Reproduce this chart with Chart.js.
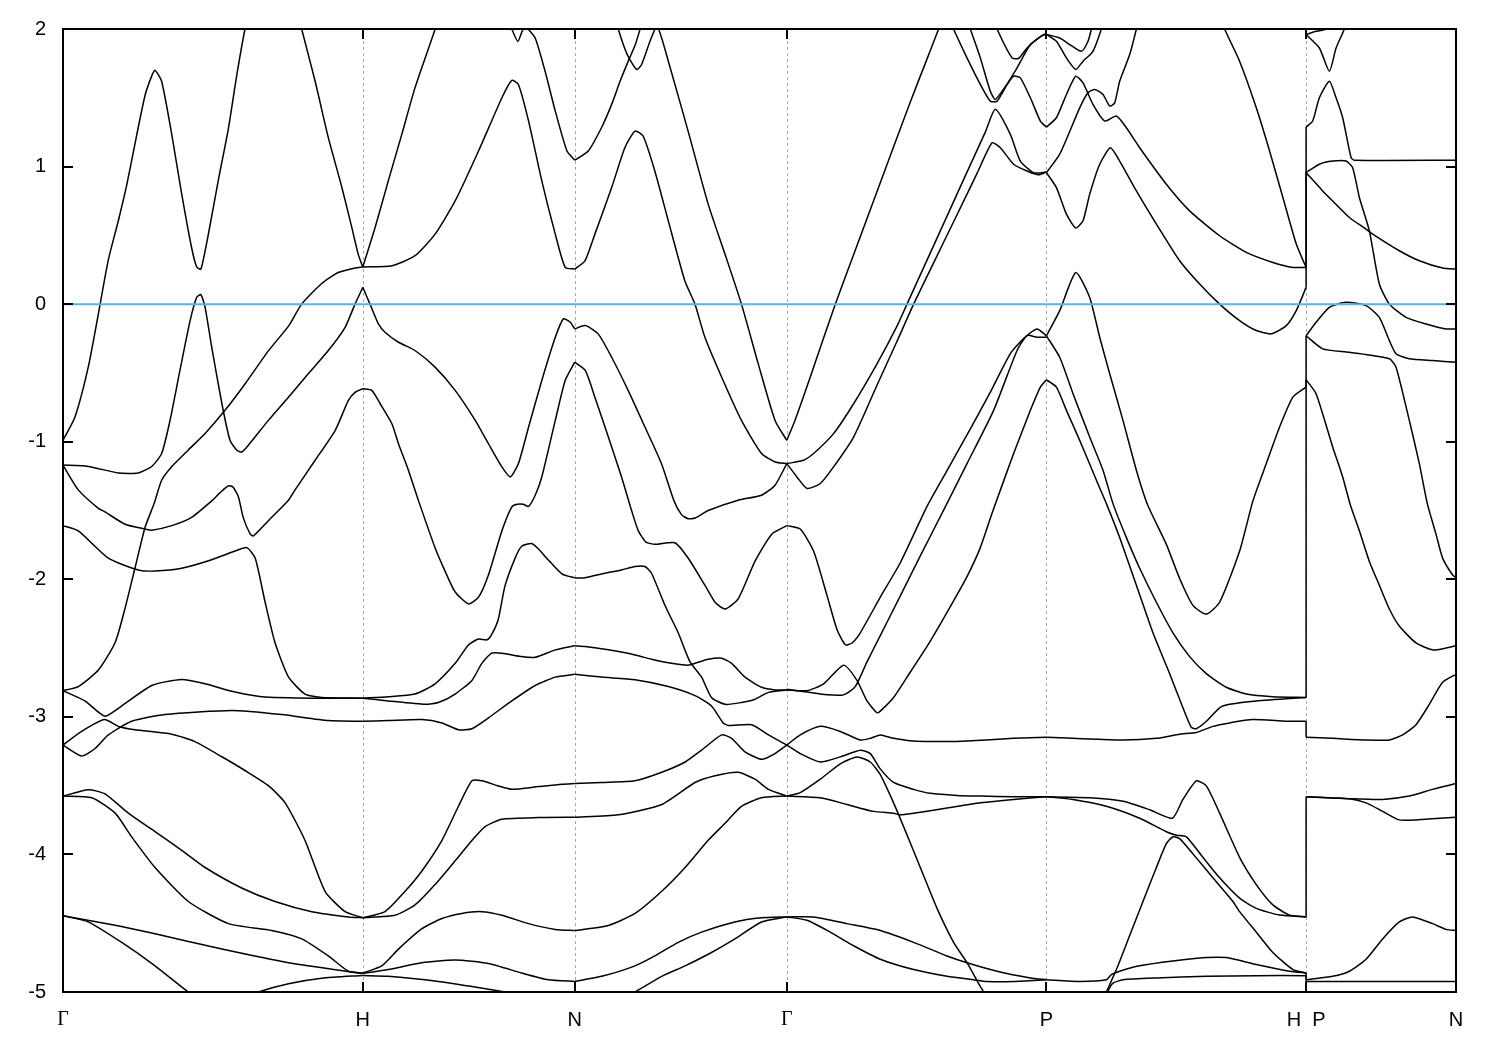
<!DOCTYPE html>
<html>
<head>
<meta charset="utf-8">
<script src="https://cdn.jsdelivr.net/npm/chart.js@4.4.1/dist/chart.umd.min.js"></script>
<style>
  html, body { margin: 0; padding: 0; background: #fff; }
  canvas { display: block; }
</style>
</head>
<body>
<canvas id="bands" width="1500" height="1050"></canvas>
<script>
// k-path (units of 2pi/a), high symmetry points
const kTicks = [0, 1, 1.7071, 2.4142, 3.2802, 4.1463, 4.6463];
const kLabels = ['Γ', 'H', 'N', 'Γ', 'P', 'H  P', 'N'];
const energyMin = -5;
const energyMax = 2;
const fermiLevel = 0;

// bands per path segment, each curve is a list of [k, E(eV)]
const bandsGammaH = [
  [[0,-0.99],[0.040,-0.82],[0.084,-0.46],[0.118,-0.07],[0.151,0.32],[0.185,0.61],[0.213,0.87],[0.246,1.23],[0.274,1.52],[0.298,1.67],[0.307,1.70],[0.329,1.62],[0.363,1.23],[0.396,0.80],[0.429,0.41],[0.446,0.27],[0.460,0.255],[0.485,0.51],[0.518,0.90],[0.552,1.28],[0.580,1.67],[0.607,2.0],[0.62,2.1]],
  [[0,-1.17],[0.084,-1.18],[0.185,-1.227],[0.251,-1.227],[0.296,-1.18],[0.329,-1.086],[0.357,-0.845],[0.390,-0.482],[0.424,-0.12],[0.446,0.05],[0.460,0.069],[0.474,-0.023],[0.496,-0.313],[0.530,-0.724],[0.557,-0.99],[0.580,-1.062],[0.596,-1.075],[0.618,-1.026],[0.685,-0.845],[0.752,-0.676],[0.818,-0.506],[0.885,-0.337],[0.941,-0.168],[0.974,0.0],[1.0,0.122]],
  [[0,-2.81],[0.051,-2.78],[0.118,-2.66],[0.174,-2.46],[0.207,-2.21],[0.240,-1.92],[0.274,-1.62],[0.304,-1.45],[0.329,-1.28],[0.363,-1.18],[0.418,-1.06],[0.474,-0.94],[0.541,-0.77],[0.607,-0.58],[0.685,-0.34],[0.752,-0.16],[0.796,0.0],[0.863,0.15],[0.918,0.23],[0.974,0.263],[1.0,0.27]],
  [[0.776,2.17],[0.796,2.0],[0.841,1.62],[0.885,1.21],[0.930,0.85],[0.963,0.56],[0.985,0.36],[1.0,0.27]],
  [[0,-1.17],[0.051,-1.35],[0.118,-1.485],[0.140,-1.51],[0.207,-1.60],[0.274,-1.635],[0.296,-1.643],[0.363,-1.61],[0.429,-1.55],[0.496,-1.43],[0.524,-1.37],[0.552,-1.32],[0.567,-1.33],[0.585,-1.40],[0.601,-1.55],[0.624,-1.67],[0.635,-1.685],[0.685,-1.574],[0.752,-1.425],[0.774,-1.35],[0.841,-1.135],[0.908,-0.917],[0.952,-0.70],[0.975,-0.64],[1.0,-0.615]],
  [[0,-1.61],[0.051,-1.648],[0.151,-1.846],[0.251,-1.932],[0.307,-1.94],[0.396,-1.92],[0.496,-1.858],[0.574,-1.795],[0.613,-1.77],[0.641,-1.846],[0.674,-2.165],[0.707,-2.46],[0.752,-2.71],[0.807,-2.834],[0.863,-2.859],[1.0,-2.864]],
  [[0,-2.81],[0.073,-2.884],[0.140,-2.995],[0.196,-2.92],[0.296,-2.772],[0.396,-2.728],[0.474,-2.76],[0.574,-2.82],[0.663,-2.853],[0.841,-2.864],[1.0,-2.864]],
  [[0,-3.205],[0.062,-3.106],[0.138,-3.02],[0.185,-3.07],[0.240,-3.094],[0.363,-3.126],[0.440,-3.18],[0.530,-3.29],[0.607,-3.39],[0.685,-3.50],[0.741,-3.625],[0.807,-3.897],[0.874,-4.268],[0.941,-4.416],[1.0,-4.46]],
  [[0,-3.205],[0.062,-3.284],[0.107,-3.23],[0.151,-3.131],[0.229,-3.032],[0.340,-2.983],[0.563,-2.953],[0.730,-2.983],[0.885,-3.027],[1.0,-3.032]],
  [[0,-3.576],[0.084,-3.53],[0.140,-3.56],[0.218,-3.70],[0.307,-3.835],[0.396,-3.97],[0.474,-4.095],[0.596,-4.244],[0.707,-4.342],[0.830,-4.416],[0.952,-4.454],[1.0,-4.46]],
  [[0,-3.576],[0.096,-3.588],[0.174,-3.70],[0.229,-3.872],[0.307,-4.095],[0.418,-4.342],[0.552,-4.503],[0.696,-4.553],[0.796,-4.614],[0.885,-4.738],[0.952,-4.849],[1.0,-4.862]],
  [[0,-4.446],[0.174,-4.515],[0.307,-4.577],[0.530,-4.688],[0.752,-4.787],[1.0,-4.866]],
  [[0,-4.446],[0.084,-4.49],[0.196,-4.64],[0.307,-4.81],[0.418,-5.0],[0.49,-5.1]],
  [[0.56,-5.08],[0.652,-5.0],[0.752,-4.94],[0.863,-4.90],[1.0,-4.88]]
];

const bandsHN = [
  [[1.0,0.27],[1.041,0.557],[1.085,0.896],[1.130,1.234],[1.174,1.572],[1.241,1.996],[1.26,2.12]],
  [[1.0,0.27],[1.097,0.279],[1.174,0.352],[1.241,0.509],[1.308,0.75],[1.386,1.113],[1.464,1.50],[1.497,1.626],[1.519,1.597],[1.553,1.33],[1.597,0.896],[1.642,0.509],[1.675,0.267],[1.707,0.255]],
  [[1.48,2.1],[1.497,2.0],[1.517,1.91],[1.535,2.0],[1.55,2.0],[1.575,1.935],[1.608,1.693],[1.642,1.403],[1.681,1.113],[1.707,1.046]],
  [[1.0,0.122],[1.024,0.0],[1.052,-0.144],[1.074,-0.204],[1.119,-0.277],[1.174,-0.337],[1.241,-0.458],[1.308,-0.627],[1.375,-0.845],[1.419,-1.014],[1.464,-1.183],[1.492,-1.256],[1.519,-1.159],[1.553,-0.893],[1.597,-0.555],[1.642,-0.241],[1.669,-0.107],[1.692,-0.132],[1.707,-0.18]],
  [[1.0,-0.615],[1.030,-0.627],[1.058,-0.724],[1.097,-0.869],[1.119,-1.014],[1.152,-1.207],[1.186,-1.43],[1.241,-1.771],[1.275,-1.944],[1.308,-2.092],[1.353,-2.179],[1.386,-2.13],[1.419,-1.969],[1.464,-1.648],[1.497,-1.474],[1.515,-1.455],[1.535,-1.455],[1.553,-1.47],[1.575,-1.389],[1.597,-1.256],[1.642,-0.845],[1.675,-0.555],[1.707,-0.422]],
  [[1.0,-2.864],[1.085,-2.854],[1.174,-2.834],[1.241,-2.76],[1.308,-2.611],[1.353,-2.476],[1.386,-2.434],[1.414,-2.44],[1.430,-2.40],[1.452,-2.29],[1.474,-2.05],[1.508,-1.846],[1.530,-1.76],[1.563,-1.74],[1.586,-1.78],[1.619,-1.86],[1.664,-1.96],[1.707,-1.99]],
  [[1.0,-2.864],[1.085,-2.884],[1.208,-2.909],[1.252,-2.896],[1.308,-2.834],[1.364,-2.735],[1.397,-2.611],[1.430,-2.537],[1.464,-2.537],[1.530,-2.562],[1.575,-2.567],[1.642,-2.513],[1.707,-2.483]],
  [[1.0,-3.032],[1.085,-3.027],[1.197,-3.02],[1.264,-3.044],[1.319,-3.094],[1.364,-3.086],[1.419,-3.007],[1.497,-2.884],[1.575,-2.772],[1.642,-2.711],[1.707,-2.691]],
  [[1.0,-4.46],[1.074,-4.416],[1.141,-4.268],[1.197,-4.12],[1.264,-3.897],[1.319,-3.65],[1.364,-3.465],[1.397,-3.465],[1.452,-3.502],[1.497,-3.527],[1.586,-3.507],[1.664,-3.49],[1.707,-3.485]],
  [[1.0,-4.46],[1.108,-4.442],[1.174,-4.367],[1.241,-4.219],[1.308,-4.046],[1.364,-3.898],[1.408,-3.798],[1.464,-3.744],[1.586,-3.732],[1.707,-3.73]],
  [[1.0,-4.862],[1.063,-4.81],[1.119,-4.688],[1.197,-4.54],[1.264,-4.466],[1.330,-4.429],[1.397,-4.416],[1.464,-4.442],[1.553,-4.503],[1.642,-4.545],[1.707,-4.553]],
  [[1.0,-4.866],[1.085,-4.837],[1.197,-4.787],[1.308,-4.768],[1.419,-4.793],[1.530,-4.862],[1.619,-4.911],[1.707,-4.923]],
  [[1.0,-4.88],[1.085,-4.886],[1.252,-4.923],[1.364,-4.96],[1.475,-5.0],[1.592,-5.05]]
];

const bandsNGamma = [
  [[1.707,1.046],[1.752,1.113],[1.796,1.282],[1.830,1.452],[1.858,1.62],[1.883,1.754],[1.909,1.887],[1.925,2.0],[1.94,2.1]],
  [[1.835,2.15],[1.852,2.0],[1.882,1.814],[1.913,1.706],[1.930,1.742],[1.958,1.911],[1.982,2.02],[2.019,1.766],[2.085,1.258],[2.152,0.727],[2.208,0.364],[2.263,0.0],[2.319,-0.434],[2.375,-0.845],[2.4142,-0.99]],
  [[1.707,0.255],[1.741,0.315],[1.774,0.509],[1.830,0.847],[1.874,1.137],[1.908,1.258],[1.935,1.222],[1.974,0.968],[2.019,0.605],[2.074,0.17],[2.108,0.0],[2.141,-0.241],[2.197,-0.531],[2.263,-0.845],[2.330,-1.086],[2.375,-1.147],[2.4142,-1.159]],
  [[1.707,-0.18],[1.742,-0.156],[1.785,-0.216],[1.830,-0.386],[1.885,-0.627],[1.941,-0.893],[1.996,-1.159],[2.038,-1.43],[2.063,-1.53],[2.085,-1.56],[2.108,-1.555],[2.152,-1.50],[2.252,-1.425],[2.330,-1.389],[2.375,-1.316],[2.4142,-1.159]],
  [[1.707,-0.422],[1.742,-0.482],[1.774,-0.676],[1.819,-0.966],[1.863,-1.256],[1.896,-1.497],[1.919,-1.648],[1.945,-1.73],[1.975,-1.746],[2.041,-1.734],[2.085,-1.845],[2.141,-2.043],[2.175,-2.167],[2.208,-2.216],[2.252,-2.142],[2.308,-1.87],[2.364,-1.672],[2.4142,-1.61]],
  [[1.707,-1.99],[1.742,-1.988],[1.807,-1.956],[1.863,-1.932],[1.908,-1.907],[1.941,-1.907],[1.963,-1.956],[2.008,-2.191],[2.052,-2.389],[2.091,-2.599],[2.130,-2.711],[2.163,-2.859],[2.208,-2.909],[2.263,-2.896],[2.308,-2.872],[2.353,-2.822],[2.4142,-2.804]],
  [[1.707,-2.483],[1.742,-2.488],[1.819,-2.513],[1.908,-2.55],[1.963,-2.581],[2.019,-2.607],[2.085,-2.624],[2.108,-2.611],[2.152,-2.582],[2.197,-2.574],[2.230,-2.611],[2.275,-2.711],[2.330,-2.785],[2.375,-2.804],[2.4142,-2.804]],
  [[1.707,-2.691],[1.796,-2.711],[1.908,-2.73],[2.019,-2.78],[2.108,-2.846],[2.163,-2.921],[2.202,-3.044],[2.219,-3.062],[2.297,-3.057],[2.353,-3.131],[2.4142,-3.205]],
  [[1.707,-3.485],[1.797,-3.477],[1.908,-3.465],[1.997,-3.403],[2.075,-3.328],[2.130,-3.242],[2.197,-3.131],[2.230,-3.156],[2.275,-3.254],[2.330,-3.309],[2.375,-3.267],[2.4142,-3.205]],
  [[1.707,-3.73],[1.852,-3.712],[1.997,-3.637],[2.108,-3.477],[2.175,-3.428],[2.252,-3.403],[2.308,-3.453],[2.353,-3.527],[2.4142,-3.576]],
  [[1.707,-4.553],[1.819,-4.516],[1.908,-4.429],[1.997,-4.268],[2.075,-4.095],[2.152,-3.897],[2.208,-3.774],[2.263,-3.65],[2.330,-3.588],[2.4142,-3.576]],
  [[1.707,-4.923],[1.797,-4.886],[1.908,-4.81],[1.974,-4.738],[2.052,-4.639],[2.130,-4.565],[2.241,-4.491],[2.330,-4.461],[2.4142,-4.454]],
  [[1.825,-5.1],[1.908,-5.0],[1.997,-4.886],[2.075,-4.81],[2.163,-4.713],[2.241,-4.614],[2.330,-4.491],[2.4142,-4.454]]
];

const bandsGammaP = [
  [[2.4142,-0.99],[2.4424,-0.84],[2.4925,-0.53],[2.5759,0.0],[2.6593,0.49],[2.7427,0.98],[2.8262,1.47],[2.8762,1.75],[2.9206,2.0],[2.935,2.08]],
  [[2.4142,-1.159],[2.4701,-1.135],[2.5035,-1.086],[2.5702,-0.941],[2.6370,-0.724],[2.7150,-0.434],[2.7818,-0.16],[2.8151,0.0],[2.8819,0.32],[2.9486,0.64],[3.0153,0.96],[3.0764,1.25],[3.1098,1.416],[3.1598,1.234],[3.1932,1.04],[3.2376,0.956],[3.2802,0.96]],
  [[2.4142,-1.159],[2.4481,-1.256],[2.4815,-1.34],[2.5259,-1.304],[2.5702,-1.183],[2.6370,-0.966],[2.7150,-0.59],[2.7818,-0.27],[2.8372,0.0],[2.9039,0.30],[2.9820,0.65],[3.0487,0.95],[3.0988,1.173],[3.1265,1.137],[3.1708,1.017],[3.2155,0.968],[3.2543,0.94],[3.2802,0.96]],
  [[2.955,2.1],[2.9706,2.0],[3.0153,1.79],[3.0597,1.597],[3.0931,1.475],[3.1154,1.475],[3.1488,1.597],[3.1822,1.717],[3.2266,1.887],[3.2709,1.96],[3.2802,1.964]],
  [[3.015,2.08],[3.0264,2.0],[3.0597,1.79],[3.0931,1.547],[3.1098,1.488],[3.1431,1.58],[3.1708,1.657],[3.1932,1.645],[3.2266,1.50],[3.2599,1.331],[3.2802,1.287]],
  [[3.105,2.08],[3.1154,2.0],[3.1655,1.79],[3.1875,1.786],[3.2155,1.862],[3.2599,1.945],[3.2802,1.964]],
  [[2.4142,-1.61],[2.4591,-1.635],[2.5035,-1.795],[2.5482,-2.117],[2.5816,-2.365],[2.6093,-2.476],[2.6316,-2.463],[2.6593,-2.389],[2.7260,-2.13],[2.7928,-1.88],[2.8819,-1.47],[2.9486,-1.21],[3.0153,-0.95],[3.0931,-0.64],[3.1598,-0.36],[3.2042,-0.25],[3.2489,-0.18],[3.2802,-0.23]],
  [[2.4142,-2.80],[2.4815,-2.82],[2.5482,-2.84],[2.6036,-2.84],[2.6426,-2.78],[2.6817,-2.60],[2.7260,-2.41],[2.7928,-2.12],[2.8595,-1.83],[2.9373,-1.497],[3.0153,-1.159],[3.1041,-0.772],[3.1822,-0.337],[3.2155,-0.228],[3.2489,-0.241],[3.2802,-0.241]],
  [[2.4142,-2.804],[2.4815,-2.81],[2.5369,-2.76],[2.6036,-2.624],[2.6483,-2.735],[2.6817,-2.884],[2.7150,-2.97],[2.7260,-2.958],[2.7704,-2.859],[2.8151,-2.711],[2.8819,-2.488],[2.9486,-2.24],[3.0153,-1.98],[3.0597,-1.77],[3.0988,-1.52],[3.1708,-1.086],[3.2266,-0.772],[3.2599,-0.603],[3.2802,-0.55]],
  [[2.4142,-3.205],[2.4591,-3.131],[2.5259,-3.069],[2.5926,-3.106],[2.6593,-3.168],[2.6927,-3.156],[2.7260,-3.131],[2.7704,-3.156],[2.8372,-3.176],[2.9486,-3.18],[3.0153,-3.176],[3.1708,-3.156],[3.2802,-3.148]],
  [[2.4142,-3.205],[2.4591,-3.267],[2.5259,-3.328],[2.5926,-3.291],[2.6593,-3.242],[2.6927,-3.267],[2.7260,-3.378],[2.7704,-3.477],[2.8372,-3.527],[2.8929,-3.556],[2.9820,-3.571],[3.0597,-3.576],[3.1708,-3.581],[3.2802,-3.581]],
  [[2.4142,-3.576],[2.4591,-3.551],[2.5259,-3.453],[2.5926,-3.341],[2.6483,-3.291],[2.6927,-3.328],[2.7260,-3.42],[2.7704,-3.625],[2.8038,-3.798],[2.8595,-4.095],[2.9153,-4.392],[2.9706,-4.639],[3.0153,-4.787],[3.0597,-4.96],[3.0707,-5.0],[3.09,-5.08]],
  [[2.4142,-3.576],[2.5259,-3.588],[2.6150,-3.637],[2.7037,-3.687],[2.7704,-3.70],[2.7928,-3.712],[2.8372,-3.70],[2.9486,-3.663],[3.0597,-3.625],[3.1708,-3.60],[3.2802,-3.581]],
  [[2.4142,-4.454],[2.5035,-4.454],[2.6150,-4.503],[2.7260,-4.553],[2.8372,-4.639],[2.9486,-4.738],[3.0153,-4.787],[3.1154,-4.849],[3.2266,-4.898],[3.2802,-4.911]],
  [[2.4142,-4.454],[2.4815,-4.479],[2.5592,-4.565],[2.6370,-4.664],[2.7260,-4.762],[2.8372,-4.837],[2.9486,-4.886],[3.0374,-4.911],[3.0821,-4.923],[3.1708,-4.923],[3.2802,-4.911]]
];

const bandsPH = [
  [[3.2802,1.96],[3.3245,1.935],[3.3579,1.887],[3.3969,1.838],[3.4189,1.911],[3.4302,2.0],[3.44,2.1]],
  [[3.2802,1.96],[3.3135,1.911],[3.3469,1.79],[3.3779,1.706],[3.4022,1.766],[3.4355,1.838],[3.4635,2.0],[3.475,2.1]],
  [[3.2802,1.287],[3.3135,1.355],[3.3469,1.524],[3.3779,1.657],[3.4022,1.608],[3.4355,1.452],[3.4745,1.331],[3.5135,1.367],[3.5469,1.282],[3.5912,1.137],[3.6802,0.872],[3.7579,0.678],[3.8579,0.497],[3.9469,0.376],[4.0355,0.303],[4.1022,0.267],[4.1463,0.267]],
  [[3.2802,0.956],[3.3245,1.09],[3.3912,1.427],[3.4189,1.536],[3.4412,1.561],[3.4689,1.524],[3.4912,1.44],[3.5079,1.463],[3.5245,1.62],[3.5579,1.814],[3.5802,2.0],[3.59,2.1]],
  [[3.2802,0.956],[3.3135,0.847],[3.3469,0.654],[3.3779,0.553],[3.4022,0.606],[3.4245,0.799],[3.4579,1.017],[3.4935,1.137],[3.5245,1.04],[3.5802,0.823],[3.6469,0.582],[3.7245,0.315],[3.7912,0.146],[3.8579,0.0],[3.9245,-0.12],[3.9802,-0.192],[4.0302,-0.216],[4.0802,-0.156],[4.1135,-0.047],[4.1463,0.122]],
  [[3.86,2.1],[3.8745,2.0],[3.9245,1.766],[3.9802,1.427],[4.0245,1.113],[4.0689,0.775],[4.1135,0.437],[4.1463,0.267]],
  [[3.2802,-0.23],[3.3245,-0.047],[3.3779,0.23],[3.4245,0.049],[3.4579,-0.241],[3.4912,-0.506],[3.5355,-0.845],[3.5802,-1.207],[3.6179,-1.46],[3.6802,-1.746],[3.7245,-1.994],[3.7689,-2.19],[3.8135,-2.253],[3.8579,-2.167],[3.9245,-1.795],[3.9689,-1.43],[4.0135,-1.159],[4.0579,-0.893],[4.1022,-0.676],[4.1463,-0.603]],
  [[3.2802,-0.23],[3.3245,-0.386],[3.3689,-0.651],[3.4245,-0.966],[3.4689,-1.207],[3.5022,-1.45],[3.5469,-1.697],[3.5912,-1.92],[3.6469,-2.167],[3.7022,-2.389],[3.7579,-2.562],[3.8135,-2.686],[3.8802,-2.785],[3.9469,-2.834],[4.0355,-2.853],[4.1463,-2.859]],
  [[3.2802,-0.55],[3.3135,-0.603],[3.3469,-0.772],[3.3912,-0.99],[3.4469,-1.28],[3.4802,-1.45],[3.5245,-1.697],[3.5802,-2.043],[3.6355,-2.389],[3.6912,-2.686],[3.7355,-2.934],[3.7635,-3.077],[3.7802,-3.086],[3.8135,-3.032],[3.8579,-2.934],[3.8912,-2.909],[3.9802,-2.884],[4.1463,-2.859]],
  [[3.2802,-3.148],[3.3689,-3.156],[3.5355,-3.168],[3.6469,-3.156],[3.7245,-3.126],[3.7802,-3.114],[3.8355,-3.069],[3.8912,-3.044],[3.9689,-3.02],[4.0802,-3.032],[4.1463,-3.032]],
  [[3.2802,-3.581],[3.4245,-3.588],[3.5355,-3.613],[3.6245,-3.675],[3.7002,-3.737],[3.7355,-3.60],[3.7802,-3.465],[3.8135,-3.502],[3.8579,-3.70],[3.9245,-4.021],[3.9802,-4.219],[4.0355,-4.367],[4.0912,-4.441],[4.1463,-4.454]],
  [[3.2802,-3.581],[3.3689,-3.60],[3.4802,-3.65],[3.5912,-3.737],[3.6802,-3.835],[3.7135,-3.86],[3.7469,-3.872],[3.8022,-4.021],[3.8579,-4.17],[3.9245,-4.318],[3.9802,-4.392],[4.0579,-4.441],[4.1463,-4.454]],
  [[3.46,-5.1],[3.4802,-5.0],[3.5135,-4.837],[3.5579,-4.59],[3.6022,-4.342],[3.6469,-4.095],[3.6802,-3.922],[3.7022,-3.872],[3.7245,-3.885],[3.7689,-3.996],[3.8355,-4.17],[3.9022,-4.342],[3.9245,-4.416],[3.9802,-4.565],[4.0355,-4.713],[4.1022,-4.837],[4.1463,-4.862]],
  [[3.2802,-4.911],[3.3912,-4.923],[3.4802,-4.911],[3.4969,-4.874],[3.5245,-4.849],[3.5912,-4.81],[3.7022,-4.775],[3.8135,-4.75],[3.8802,-4.75],[3.9802,-4.8],[4.0912,-4.849],[4.1463,-4.862]],
  [[3.478,-5.05],[3.4842,-5.0],[3.5022,-4.936],[3.5355,-4.911],[3.6469,-4.898],[3.8135,-4.886],[3.9802,-4.881],[4.1463,-4.881]]
];

const bandsPN = [
  [[4.1463,1.96],[4.1796,1.983],[4.2130,2.0],[4.23,2.05]],
  [[4.1463,1.96],[4.1906,1.862],[4.2240,1.693],[4.2463,1.862],[4.2740,2.0],[4.285,2.1]],
  [[4.1463,1.287],[4.1683,1.331],[4.1906,1.50],[4.2240,1.62],[4.2463,1.50],[4.2683,1.355],[4.2963,1.065],[4.3073,1.046],[4.6463,1.046]],
  [[4.1463,0.956],[4.1906,1.017],[4.2350,1.04],[4.2796,1.04],[4.3016,0.992],[4.3240,0.775],[4.3573,0.533],[4.3906,0.146],[4.4240,0.0],[4.4796,-0.096],[4.5463,-0.144],[4.6130,-0.18],[4.6463,-0.18]],
  [[4.1463,0.956],[4.2016,0.823],[4.2350,0.75],[4.2906,0.63],[4.3463,0.545],[4.3683,0.509],[4.4573,0.388],[4.5240,0.315],[4.6016,0.262],[4.6463,0.255]],
  [[4.1463,-0.23],[4.1796,-0.132],[4.2240,-0.023],[4.2796,0.013],[4.3463,-0.011],[4.3906,-0.096],[4.4240,-0.265],[4.4463,-0.361],[4.4906,-0.397],[4.5683,-0.41],[4.6463,-0.422]],
  [[4.1463,-0.23],[4.2016,-0.325],[4.2906,-0.35],[4.4240,-0.397],[4.4463,-0.458],[4.4906,-0.845],[4.5240,-1.159],[4.5507,-1.45],[4.5796,-1.672],[4.6016,-1.846],[4.6350,-1.969],[4.6463,-1.988]],
  [[4.1463,-0.55],[4.1796,-0.651],[4.2350,-1.038],[4.2683,-1.256],[4.2940,-1.46],[4.3240,-1.648],[4.3573,-1.87],[4.3906,-2.043],[4.4240,-2.216],[4.4573,-2.34],[4.5130,-2.463],[4.5683,-2.513],[4.6130,-2.50],[4.6463,-2.483]],
  [[4.1463,-3.148],[4.2350,-3.156],[4.3463,-3.168],[4.4240,-3.168],[4.4683,-3.131],[4.5130,-3.057],[4.5573,-2.909],[4.6016,-2.748],[4.6463,-2.691]],
  [[4.1463,-3.581],[4.2906,-3.595],[4.4016,-3.60],[4.4906,-3.576],[4.5683,-3.527],[4.6463,-3.485]],
  [[4.1463,-3.581],[4.2906,-3.595],[4.3463,-3.625],[4.4016,-3.687],[4.4573,-3.749],[4.5130,-3.749],[4.5906,-3.737],[4.6463,-3.73]],
  [[4.1463,-4.911],[4.2350,-4.886],[4.2906,-4.849],[4.3463,-4.762],[4.4016,-4.614],[4.4573,-4.491],[4.5016,-4.454],[4.5683,-4.503],[4.6130,-4.545],[4.6463,-4.553]],
  [[4.1463,-4.923],[4.6463,-4.923]]
];

// band energies at H and at P where the path jumps (H|P), [E at H, E at P]
const jumpsHP = [[2.3,1.96],[0.267,1.287],[0.122,0.956],[-0.603,-0.23],[-2.859,-0.55],[-3.032,-3.148],[-4.454,-3.581],[-4.862,-4.911],[-4.881,-5.3]];

const kJump = kTicks[5];

function bandDataset(curve, tension) {
    return {
        data: curve.map(([x, y]) => ({ x: x, y: y })),
        borderColor: '#000',
        borderWidth: 1.5,
        pointRadius: 0,
        fill: false,
        tension: tension,
        clip: 0,
        order: 1
    };
}

const datasets = [];
[bandsGammaH, bandsHN, bandsNGamma, bandsGammaP, bandsPH, bandsPN].forEach(seg => {
    seg.forEach(curve => datasets.push(bandDataset(curve, 0.2)));
});
jumpsHP.forEach(([eH, eP]) => datasets.push(bandDataset([[kJump, eH], [kJump, eP]], 0)));

// Fermi level on top of the bands
datasets.push({
    data: [{ x: kTicks[0], y: fermiLevel }, { x: kTicks[kTicks.length - 1], y: fermiLevel }],
    borderColor: '#56b4e9',
    borderWidth: 2,
    pointRadius: 0,
    fill: false,
    tension: 0,
    clip: 0,
    order: -1
});

// dashed k-point lines, frame and inward tics
const framePlugin = {
    id: 'frame',
    beforeDatasetsDraw(chart) {
        const { ctx, chartArea: a, scales: { x } } = chart;
        ctx.save();
        ctx.strokeStyle = '#a8a8a8';
        ctx.lineWidth = 1;
        ctx.setLineDash([3, 3]);
        kTicks.slice(1, -1).forEach(k => {
            const px = Math.round(x.getPixelForValue(k)) + 0.5;
            ctx.beginPath();
            ctx.moveTo(px, a.top);
            ctx.lineTo(px, a.bottom);
            ctx.stroke();
        });
        ctx.restore();
    },
    afterDatasetsDraw(chart) {
        const { ctx, chartArea: a, scales: { x, y } } = chart;
        ctx.save();
        ctx.strokeStyle = '#000';
        ctx.lineWidth = 2;
        ctx.beginPath();
        y.ticks.forEach(t => {
            const py = Math.round(y.getPixelForValue(t.value));
            ctx.moveTo(a.left, py); ctx.lineTo(a.left + 10, py);
            ctx.moveTo(a.right, py); ctx.lineTo(a.right - 10, py);
        });
        kTicks.forEach(k => {
            const px = Math.round(x.getPixelForValue(k));
            ctx.moveTo(px, a.bottom); ctx.lineTo(px, a.bottom - 10);
            ctx.moveTo(px, a.top); ctx.lineTo(px, a.top + 10);
        });
        ctx.stroke();
        ctx.strokeRect(a.left, a.top, a.right - a.left, a.bottom - a.top);
        ctx.restore();
    }
};

const ctx = document.getElementById('bands').getContext('2d');
const bandChart = new Chart(ctx, {
    type: 'line',
    data: { datasets: datasets },
    options: {
        responsive: false,
        animation: false,
        layout: { padding: { top: 28, right: 44, bottom: 0, left: 0 } },
        plugins: { legend: { display: false }, tooltip: { enabled: false } },
        scales: {
            x: {
                type: 'linear',
                min: kTicks[0],
                max: kTicks[kTicks.length - 1],
                grid: { display: false, drawTicks: false },
                border: { display: false },
                afterBuildTicks: axis => { axis.ticks = kTicks.map(v => ({ value: v })); },
                afterFit: axis => { axis.height = 58; },
                ticks: {
                    autoSkip: false,
                    maxRotation: 0,
                    padding: 16,
                    color: '#000',
                    font: c => ({
                        family: kLabels[c.index] === 'Γ' ? '"Liberation Serif", "DejaVu Serif", serif' : '"Liberation Sans", Arial, sans-serif',
                        size: 20
                    }),
                    callback: (value, index) => kLabels[index]
                }
            },
            y: {
                min: energyMin,
                max: energyMax,
                grid: { display: false, drawTicks: false },
                border: { display: false },
                afterFit: axis => { axis.width = 63; },
                ticks: {
                    stepSize: 1,
                    padding: 17,
                    color: '#000',
                    font: { family: '"Liberation Sans", Arial, sans-serif', size: 20 }
                }
            }
        }
    },
    plugins: [framePlugin]
});
</script>
</body>
</html>
